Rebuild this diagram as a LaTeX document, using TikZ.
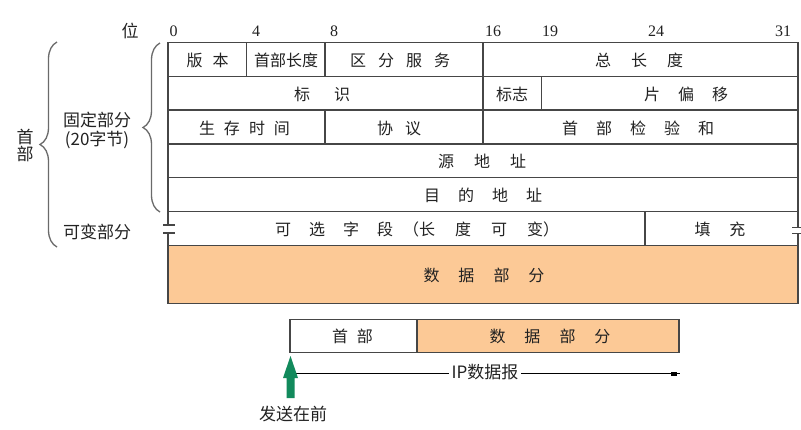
\documentclass[tikz,border=0pt]{standalone}
\usepackage{fontspec}
\newfontfamily\cjk{Noto Sans CJK SC}
\newfontfamily\digf{Liberation Serif}
\usetikzlibrary{decorations.pathreplacing}
\definecolor{lc}{HTML}{464646}
\definecolor{tc}{HTML}{222222}
\definecolor{og}{HTML}{FCC996}
\definecolor{gr}{HTML}{128A5C}
\definecolor{bc}{HTML}{6A6A6A}
\newcommand\g[1]{\hspace{#1pt}}
\begin{document}
\begin{tikzpicture}[x=1pt,y=-1pt,
 tbl/.style={draw=lc, line width=1.4pt},
 txt/.style={inner sep=0pt, text=tc, font=\cjk\fontsize{16}{16}\selectfont},
 lbl/.style={inner sep=0pt, text=tc, font=\cjk\fontsize{17}{17}\selectfont},
 bit/.style={inner sep=0pt, text=tc, font=\digf\fontsize{16}{16}\selectfont},
 brc/.style={draw=bc, line width=1.3pt, decorate, decoration={brace, amplitude=17pt}}]
\useasboundingbox (0,0) rectangle (801,429);
\fill[white] (0,0) rectangle (801,429);
% data fill
\fill[og] (168,245.3) rectangle (798,303.3);
% frame
\draw[tbl] (168,225) -- (168,42.5) -- (798,42.5) -- (798,227.3);
\draw[tbl] (168,233) -- (168,303.3) -- (798,303.3) -- (798,233.3);
\foreach \y in {76.3,110.1,143.9,177.7,211.5,245.3} \draw[tbl] (168,\y) -- (798,\y);
% break ticks
\draw[tbl] (163,225) -- (175,225) (163,233) -- (175,233);
\draw[tbl] (792,227.3) -- (803,227.3) (792,233.3) -- (803,233.3);
% inner verticals
\draw[tbl] (246.5,42.5) -- (246.5,76.3) (325,42.5) -- (325,76.3)
  (483,42.5) -- (483,143.9) (541.7,76.3) -- (541.7,110.1)
  (325,110.1) -- (325,143.9) (645,211.5) -- (645,245.3);
% bit labels
\node[bit] (b0) at (173.5,31) {0};
\node[bit] (b4) at (256,31) {4};
\node[bit] (b8) at (334,31) {8};
\node[bit] (b16) at (493,31) {16};
\node[bit] (b19) at (550,31) {19};
\node[bit] (b24) at (656,31) {24};
\node[bit] (b31) at (783,31) {31};
\node[lbl] (wei) at (130,31) {位};
% row 1
\node[txt] (ver) at (207.5,60) {版\g{10}本};
\node[txt] (hl) at (286,60) {首部长度};
\node[txt] (ds) at (400,60) {区\g{12}分\g{12}服\g{12}务};
\node[txt] (tl) at (639,60) {总\g{20}长\g{20}度};
% row 2
\node[txt] (id) at (322,94) {标\g{24}识};
\node[txt] (fl) at (512,94) {标志};
\node[txt] (fo) at (686,94) {片\g{18}偏\g{18}移};
% row 3
\node[txt] (ttl) at (244.5,128) {生\g{9}存\g{9}时\g{9}间};
\node[txt] (pr) at (399,128) {协\g{12}议};
\node[txt] (cs) at (638,128) {首\g{18}部\g{18}检\g{18}验\g{18}和};
% row 4,5
\node[txt] (src) at (482,161.5) {源\g{20}地\g{20}址};
\node[txt] (dst) at (483,195.5) {目\g{18}的\g{18}地\g{18}址};
% row 6
\node[txt, anchor=west] (opt) at (275,229) {可\g{18}选\g{18}字\g{18}段\g{10}（长\g{20}度\g{20}可\g{20}变）};
\node[txt] (pad) at (720,229) {填\g{19}充};
% data
\node[txt] (data) at (484,275) {数\g{19}据\g{19}部\g{19}分};
% braces and labels
\draw[brc] (160,212) -- (160,43);
\draw[brc] (57,247) -- (57,42);
\node[lbl] (fix1) at (97,120) {固定部分};
\node[lbl] (fix2) at (97,140) {(20字节)};
\node[lbl] (var) at (97,232) {可变部分};
\node[lbl] (sh) at (25,137) {首};
\node[lbl] (sb) at (25,154) {部};
% bottom datagram
\draw[tbl, fill=og] (417,319.5) rectangle (679,352.3);
\draw[tbl] (290,319.5) rectangle (417,352.3);
\node[txt] (bh) at (352.5,336.5) {首\g{9}部};
\node[txt] (bd) at (550,336.5) {数\g{19}据\g{19}部\g{19}分};
\coordinate (ls) at (290,373.5);
\coordinate (le) at (680,373.5);
\draw[line width=1pt, draw=black] (ls) -- (le);
\fill[black] (671,371.5) rectangle (677,375.5);
\node[lbl, fill=white, inner xsep=3pt, inner ysep=1pt] (ip) at (485,372.5) {IP数据报};
\fill[gr] (286.5,398) -- (286.5,378) -- (283,378) -- (290.5,356) -- (298,378) -- (294.5,378) -- (294.5,398) -- cycle;
\node[lbl] (send) at (293,414) {发送在前};
\end{tikzpicture}
\end{document}
